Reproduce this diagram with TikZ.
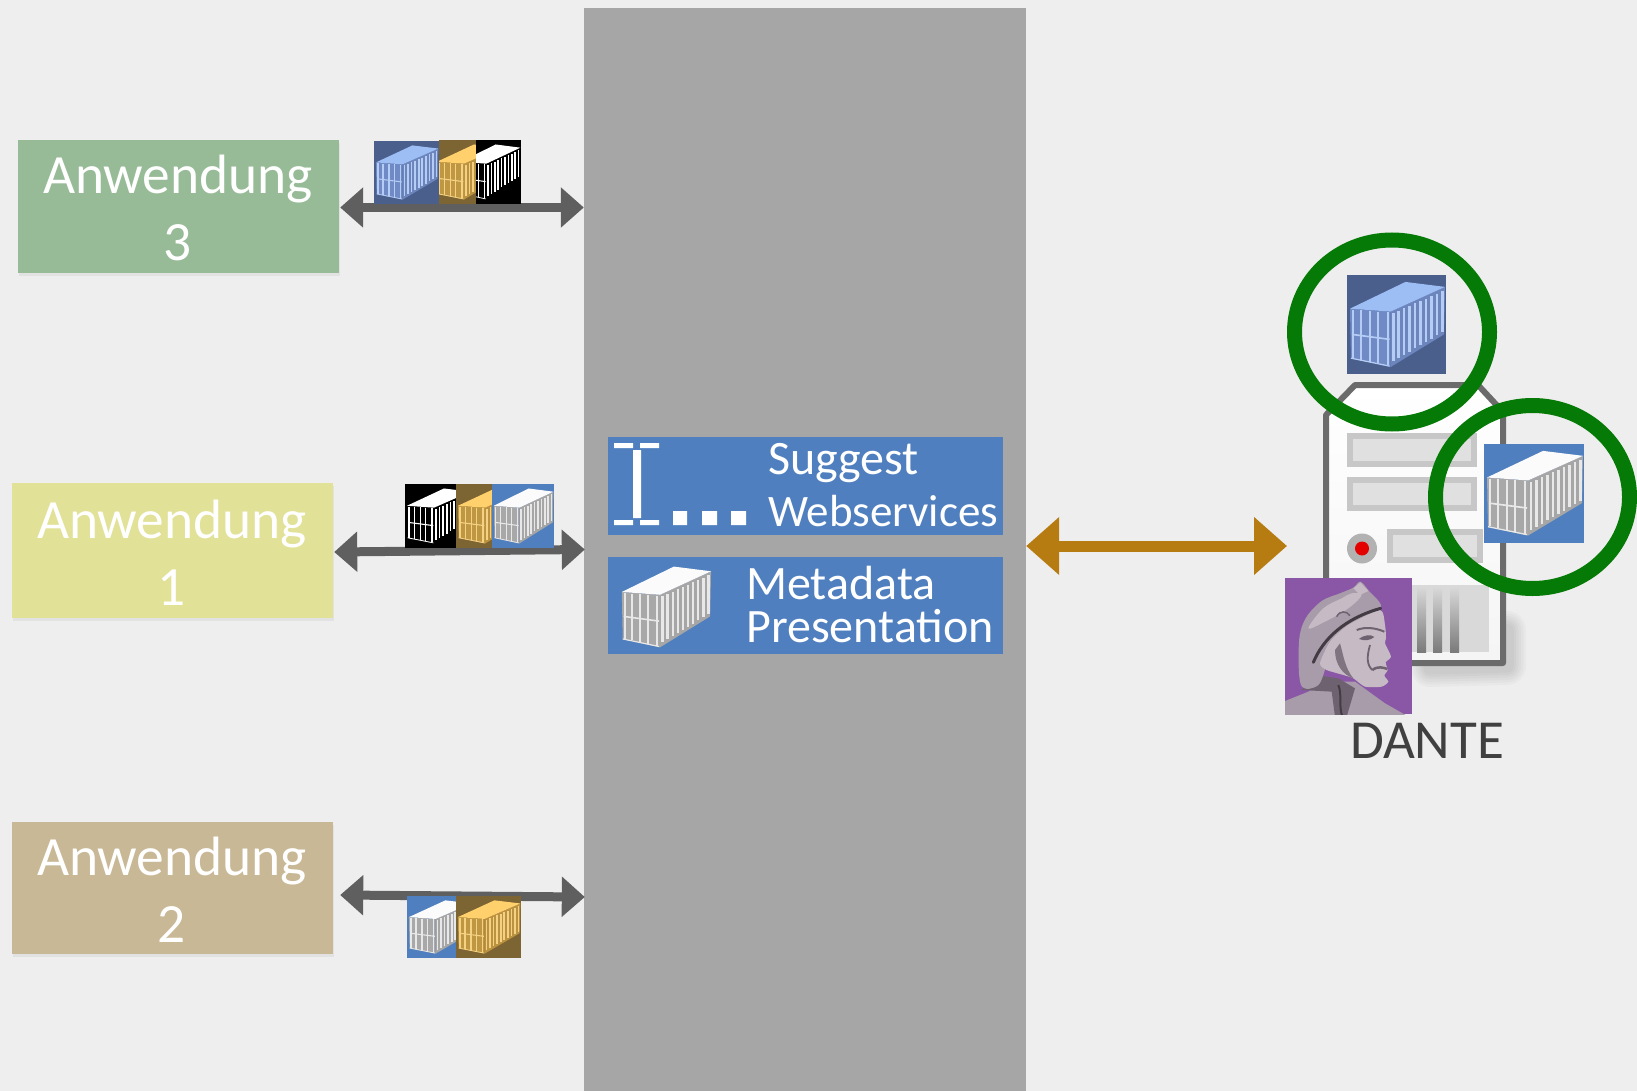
\documentclass[tikz,border=0pt]{standalone}
\usepackage{fontspec}
\setmainfont{Carlito}
\usetikzlibrary{arrows.meta,calc,shadows,fadings}
\definecolor{pagebg}{HTML}{EEEEEE}
\definecolor{gwgrey}{HTML}{A6A6A6}
\definecolor{panelblue}{HTML}{4F7FBF}
\definecolor{arrowgrey}{HTML}{5F5F5F}
\definecolor{gold}{HTML}{B67C12}
\definecolor{ringgreen}{HTML}{067A06}
\definecolor{appgreen}{HTML}{97BB97}
\definecolor{appyellow}{HTML}{E1E198}
\definecolor{apptan}{HTML}{C9B896}
\definecolor{dantebg}{HTML}{8A57A6}
\definecolor{bust}{HTML}{A99CAA}
\definecolor{bustlight}{HTML}{C6BAC4}
\definecolor{bustdark}{HTML}{6E6270}
% container palettes
\definecolor{dkbg}{HTML}{4A5F8C}\definecolor{dktop}{HTML}{9DBDF5}\definecolor{dkfront}{HTML}{6F8AC4}\definecolor{dkside}{HTML}{6C86BD}\definecolor{dkrib}{HTML}{B5CCF5}
\definecolor{wtbg}{HTML}{4F7FBF}\definecolor{wttop}{HTML}{FBFBFB}\definecolor{wtfront}{HTML}{A8A8A8}\definecolor{wtside}{HTML}{A6A6A6}\definecolor{wtrib}{HTML}{E8E8E8}
\definecolor{ylbg}{HTML}{7D6433}\definecolor{yltop}{HTML}{FFD06B}\definecolor{ylfront}{HTML}{BF9743}\definecolor{ylside}{HTML}{BB9340}\definecolor{ylrib}{HTML}{F5D184}
\definecolor{bkbg}{HTML}{000000}\definecolor{bktop}{HTML}{FFFFFF}\definecolor{bkfront}{HTML}{000000}\definecolor{bkside}{HTML}{000000}\definecolor{bkrib}{HTML}{FFFFFF}
\newcommand{\contbox}[7]{% x y w h clipx0 clipx1 palette
\begin{scope}
\clip (#5,#2) rectangle (#6,#2+#4);
\fill[#7bg] (#1,#2) rectangle ++(#3,#4);
\pgfmathsetmacro{\ribw}{#3/95}
\begin{scope}[shift={(#1,#2)},x=#3pt,y=-#4pt]
\fill[#7front] (.03,.34)--(.44,.37)--(.44,.93)--(.04,.84)--cycle;
\fill[#7side] (.44,.37)--(.99,.12)--(.98,.60)--(.44,.93)--cycle;
\fill[#7top] (.03,.34)--(.59,.07)--(.99,.12)--(.44,.37)--cycle;
\foreach \t in {.05,.15,.25,.35,.45,.55,.65,.75,.85,.95}{
\pgfmathsetmacro{\xa}{.44+.55*\t}
\pgfmathsetmacro{\ya}{.37-.25*\t+.03}
\pgfmathsetmacro{\yb}{.93-.33*\t-.04}
\draw[#7rib,line width=2.4*\ribw pt] (\xa,\ya)--(\xa,\yb);
}
\foreach \xa in {.06,.14,.23,.31,.41}{
\pgfmathsetmacro{\ya}{.34+.03*(\xa-.03)/.41+.01}
\pgfmathsetmacro{\yb}{.84+.09*(\xa-.03)/.41-.01}
\draw[#7rib,line width=1.9*\ribw pt] (\xa,\ya)--(\xa,\yb);
}
\draw[#7rib,line width=1.6*\ribw pt] (.05,.60)--(.43,.65);
\draw[#7rib,line width=1.2*\ribw pt] (.04,.84)--(.43,.92);
\end{scope}
\end{scope}}
\tikzset{
 appbox/.style={draw=none,minimum width=321pt,inner sep=0pt,drop shadow={shadow xshift=1pt,shadow yshift=-3pt,opacity=.10}},
 apptext/.style={text=white,font=\fontsize{55.4}{56}\selectfont,inner sep=0pt,anchor=base},
 paneltext/.style={text=white,inner sep=0pt,anchor=base west},
 greyarrow/.style={draw=arrowgrey,line width=9pt,{Triangle[length=23pt,width=39pt]}-{Triangle[length=23pt,width=39pt]}},
 goldarrow/.style={draw=gold,line width=11pt,{Triangle[length=33pt,width=56pt]}-{Triangle[length=33pt,width=56pt]}},
 ring/.style={draw=ringgreen,line width=15pt},
 slot/.style={fill=black!12,draw=black!22,line width=6pt},
 iconpart/.style={fill=white},
}
\begin{document}
\begin{tikzpicture}[x=1pt,y=-1pt]
\useasboundingbox (0,0) rectangle (1637,1091);
\fill[pagebg] (0,0) rectangle (1637,1091);
% central gateway
\node[fill=gwgrey,minimum width=442pt,minimum height=1083pt,inner sep=0pt] (gw) at (805,549.5) {};
% application boxes
\node[appbox,fill=appgreen,minimum height=133pt] (a3) at (178.5,206.5) {};
\node[appbox,fill=appyellow,minimum height=135pt] (a1) at (172.5,550.5) {};
\node[appbox,fill=apptan,minimum height=132pt] (a2) at (172.5,888) {};
\node[apptext] (a3t) at (178,194) {Anwendung};
\node[apptext] (a3n) at (178,260) {3};
\node[apptext] (a1t) at (172,538) {Anwendung};
\node[apptext] (a1n) at (172,605) {1};
\node[apptext] (a2t) at (172,875) {Anwendung};
\node[apptext] (a2n) at (172,942) {2};
% arrows
\draw[greyarrow] ($(a3.east)+(1,1)$) -- ($(gw.west |- a3.east)+(0,1)$);
\draw[greyarrow] ($(a1.east)+(1,1.5)$) -- ($(gw.west |- a1.east)+(1,-1)$);
\draw[greyarrow] ($(a2.east)+(7,7)$) -- ($(gw.west |- a2.east)+(1,9)$);
% strips
\contbox{374}{141}{65}{63}{374}{439}{dk}
\contbox{435}{140}{66}{64}{439}{476}{yl}
\contbox{459}{140}{62}{64}{476}{521}{bk}
\contbox{405}{484}{66}{64}{405}{456}{bk}
\contbox{456}{484}{66}{64}{456}{492}{yl}
\contbox{492}{484}{62}{64}{492}{554}{wt}
\contbox{407}{896}{65}{62}{407}{456}{wt}
\contbox{456}{896}{65}{62}{456}{521}{yl}
% panels
\node[fill=panelblue,minimum width=395pt,minimum height=98pt,inner sep=0pt] (suggest) at (805.5,486) {};
\node[fill=panelblue,minimum width=395pt,minimum height=97pt,inner sep=0pt] (meta) at (805.5,605.5) {};
\fill[iconpart] (614,443) rectangle (633,448) (640,443) rectangle (659,448) (633,450) rectangle (641,518) (614,520) rectangle (633,525) (640,520) rectangle (659,525);
\fill[iconpart] (673,511) rectangle (687,525) (702,511) rectangle (717,525) (731,511) rectangle (746,525);
\node[paneltext,font=\fontsize{48}{48}\selectfont] (s1) at (768,474) {Suggest};
\node[paneltext,font=\fontsize{45}{46}\selectfont] (s2) at (768,526) {Webservices};
\node[paneltext,font=\fontsize{48}{48}\selectfont] (m1) at (746,599) {Metadata};
\node[paneltext,font=\fontsize{48}{48}\selectfont] (m2) at (746,642.5) {Presentation};
\contbox{619}{560}{93}{94}{619}{712}{wt}
% server
\foreach \w in {38,33,28,23,18,13}{
 \draw[black,opacity=.025,line width=\w pt,line cap=round,line join=round] (1507,630) -- (1507,666) -- (1430,668);
}
\shade[top color=white,bottom color=black!4,draw=black!58,line width=6pt,line join=round]
 (1326,415) -- (1355,385) -- (1478,385) -- (1503,412) -- (1503,663) -- (1326,663) -- cycle;
\draw[slot] (1350,435.5) rectangle (1474,463.5);
\draw[slot] (1350,479.5) rectangle (1474,508);
\draw[slot] (1390,532) rectangle (1480,560);
\fill[black!30] (1362,548.5) circle (15);
\fill[red!90!black] (1362,548.5) circle (7);
\fill[black!15] (1412,585) rectangle (1489,652);
\foreach \vx in {1417,1433,1450}{
 \shade[top color=black!15,bottom color=black!52] (\vx,587) rectangle ++(9,65);
}
\draw[ring] (1392,332) ellipse (97.5 and 92);
\draw[ring] (1532.5,497) ellipse (97 and 91.5);
\contbox{1347}{275}{99}{99}{1347}{1446}{dk}
\contbox{1484}{444}{100}{98.5}{1484}{1584}{wt}
% Dante portrait
\node[fill=dantebg,minimum width=127pt,minimum height=136pt,inner sep=0pt] (dante) at (1348.5,646) {};
\begin{scope}
\clip (1285,578) rectangle (1412,714);
\begin{scope}[xshift=1285pt,yshift=-575pt,x=.3333pt,y=-.3333pt]
% shoulders
\fill[bust] (0,425) -- (0,378) -- (70,350) -- (120,320) -- (210,320) -- (300,385) -- (370,425) -- cycle;
% neck shadow
\fill[bustdark] (50,345) -- (90,300) -- (160,310) -- (210,340) -- (185,425) -- (150,425) -- (140,350) -- cycle;
% cap
\fill[bust] plot[smooth cycle,tension=.55] coordinates {(48,330) (42,200) (62,130) (110,78) (165,55) (205,38) (226,20) (252,48) (288,95) (240,140) (180,190) (130,260) (100,330)};
% face
\fill[bustlight] plot[smooth cycle,tension=.4] coordinates {(105,265) (135,200) (190,150) (285,105) (300,150) (303,190) (300,205) (318,245) (302,262) (308,285) (298,302) (310,320) (290,335) (240,335) (205,310) (175,300) (125,285)};
% highlights on the cap
\fill[bustlight] plot[smooth cycle,tension=.6] coordinates {(70,160) (115,100) (170,70) (200,55) (230,60) (190,100) (120,140)};
\fill[bustlight] (205,40) -- (226,22) -- (250,48) -- (225,60) -- cycle;
% headband
\draw[bustdark!60!black,line width=3pt,line cap=round] (85,262) .. controls (115,190) and (180,130) .. (287,100);
\draw[bustdark,line width=1.5pt] (155,125) .. controls (165,105) and (185,108) .. (195,122);
% face details
\fill[bustdark] (222,192) .. controls (240,178) and (258,178) .. (268,186) .. controls (255,197) and (238,198) .. cycle;
\draw[bustdark,line width=2pt] (215,165) .. controls (240,155) and (270,158) .. (298,170);
\draw[bustdark,line width=2.5pt] (262,285) .. controls (280,272) and (295,278) .. (307,282);
\draw[bustdark,line width=1.8pt] (255,210) .. controls (245,245) and (245,270) .. (262,285);
\fill[bustdark!70!bust] (165,205) .. controls (175,240) and (180,280) .. (205,310) .. controls (175,300) and (150,270) .. (150,225) -- cycle;
% braid
\draw[bustdark!60!black,line width=2pt] (160,330) .. controls (172,360) and (160,390) .. (172,425);
\end{scope}
\end{scope}
\node[text=black!75,font=\fontsize{55}{55}\selectfont,inner sep=0pt,anchor=base] (dl) at (1427,758.5) {DANTE};
\coordinate (srvend) at (1287,546);
\draw[goldarrow] (gw.east |- srvend) -- (srvend);
\end{tikzpicture}
\end{document}
